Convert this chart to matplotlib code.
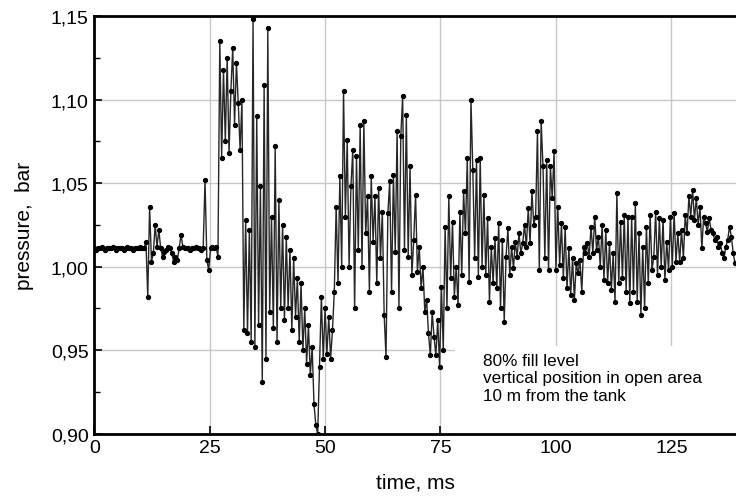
import numpy as np
import matplotlib
matplotlib.use('Agg')
import matplotlib.pyplot as plt
from matplotlib.patches import Rectangle
from matplotlib.ticker import FuncFormatter, MultipleLocator

plt.rcParams['font.family'] = ['Liberation Sans Narrow', 'Liberation Sans', 'DejaVu Sans']

# sampling step of the record, ms
dt = 0.4

# 0 .. 26.8 ms : ambient level before the blast
p_pre = [1.011, 1.010, 1.011, 1.011, 1.012, 1.011, 1.010, 1.011, 1.011, 1.011,
         1.012, 1.011, 1.010, 1.011, 1.011, 1.011, 1.010, 1.011, 1.012, 1.011,
         1.011, 1.010, 1.011, 1.011, 1.011, 1.012, 1.011, 1.011,
         1.015, 0.982, 1.036, 1.003, 1.008, 1.025, 1.012, 1.022, 1.011, 1.006,
         1.009, 1.010, 1.012, 1.011, 1.008, 1.003, 1.006, 1.004, 1.011, 1.019,
         1.012, 1.011,
         1.011, 1.011, 1.010, 1.011, 1.011, 1.012, 1.011, 1.011, 1.010, 1.011,
         1.052, 1.004, 0.998, 1.011, 1.012, 1.011, 1.012, 1.006]

# 27.2 .. 52.0 ms : first pressure burst and underpressure
p_burst = [1.135, 1.065, 1.118, 1.075, 1.125, 1.068, 1.105, 1.131, 1.085, 1.122,
           1.098, 1.070, 1.100,
           0.962, 1.028, 0.960, 1.022, 0.955, 1.148, 0.952, 1.090, 0.965, 1.048,
           0.931, 1.109, 0.945, 1.143, 0.973, 1.030, 0.963, 1.072, 0.955, 1.040,
           0.975, 1.025, 0.968, 1.018, 0.975, 1.010, 0.962, 1.005,
           0.970, 0.993, 0.955, 0.990, 0.950, 0.975, 0.942, 0.965, 0.935, 0.952,
           0.918, 0.905, 0.900, 0.940, 0.982, 0.945, 0.975, 0.948, 0.970, 0.945,
           0.962, 0.985]

# 52.4 .. 74.8 ms
p_mid = [1.036, 0.990, 1.054, 1.000, 1.105, 1.030, 1.076, 1.000, 1.048, 1.070,
         0.975, 1.066, 1.010, 1.085, 1.000, 1.087, 1.020, 1.042, 0.985, 1.054,
         1.015, 1.042, 0.990, 1.047, 1.005, 1.033, 0.971, 0.946, 1.032, 1.051,
         0.985, 1.055, 1.009, 1.081, 0.975, 1.078, 1.102, 1.010, 1.091, 1.006,
         1.060, 0.995, 1.016, 1.043, 0.997, 1.012, 0.987, 1.000, 0.973, 0.980,
         0.960, 0.947, 0.973, 0.958, 0.947, 0.968, 0.940]

# 75.2 .. 99.6 ms
p_mid2 = [0.988, 0.950, 1.024, 0.975, 1.042, 0.993, 1.027, 0.982, 1.000, 0.977,
          1.033, 0.995, 1.045, 1.020, 1.065, 0.991, 1.100, 1.058, 1.005, 1.064,
          0.994, 1.065, 1.000, 1.043, 0.995, 1.029, 0.979, 1.012, 0.990, 1.017,
          0.987, 1.026, 0.975, 1.016, 0.967, 1.006, 1.023, 0.995, 1.012, 0.999,
          1.015, 1.006, 1.020, 1.008, 1.014, 1.025, 1.012, 1.035, 1.014, 1.045,
          1.025, 1.030, 1.081, 0.998, 1.087, 1.060, 1.005, 1.064, 0.998, 1.060,
          1.041, 1.069]

# 100.0 .. 138.8 ms
p_late = [0.998, 1.036, 1.001, 1.026, 0.993, 1.024, 0.987, 1.011, 0.983, 1.005,
          0.980, 1.002, 0.996, 1.004, 0.985, 1.012, 1.008, 1.014, 1.006, 1.024,
          1.008, 1.030, 1.010, 1.018, 1.000, 1.025, 0.992, 1.022, 0.990, 1.014,
          0.986, 1.008, 0.979, 1.044, 0.990, 1.027, 0.993, 1.031, 0.985, 1.030,
          0.978, 1.030, 0.985, 1.038, 0.979, 1.020, 0.971, 1.012, 0.975, 1.024,
          0.990, 1.031, 0.998, 1.006, 1.033, 0.995, 1.029, 1.000, 1.028, 0.992,
          1.015, 0.998, 1.030, 1.000, 1.032, 1.003, 1.020, 1.003, 1.022, 1.005,
          1.031, 1.020, 1.042, 1.030, 1.046, 1.028, 1.041, 1.025, 1.036, 1.011,
          1.030, 1.026, 1.021, 1.029, 1.022, 1.020, 1.016, 1.018, 1.012, 1.014,
          1.008, 1.005, 1.012, 1.016, 1.024, 1.018, 1.008, 1.002]

segments = [(0.0, p_pre), (27.2, p_burst), (52.4, p_mid), (75.2, p_mid2), (100.0, p_late)]

x_ticks = [0, 25, 50, 75, 100, 125]
y_ticks = [0.90, 0.95, 1.00, 1.05, 1.10, 1.15]
note = '80% fill level\nvertical position in open area\n10 m from the tank'


def main():
    t = np.concatenate([t0 + dt * np.arange(len(p)) for t0, p in segments])
    p = np.concatenate([np.array(p) for t0, p in segments])

    fig = plt.figure(figsize=(7.36, 5.02), dpi=100)
    ax = fig.add_axes([0.128, 0.134, 0.872, 0.832])

    ax.plot(t, p, color='#262626', linewidth=1.0, marker='o', markersize=2.8,
            markerfacecolor='black', markeredgecolor='black', zorder=3)

    ax.set_xlim(0, 139)
    ax.set_ylim(0.90, 1.15)
    ax.set_xticks(x_ticks)
    ax.set_yticks(y_ticks)
    ax.yaxis.set_minor_locator(MultipleLocator(0.025))
    ax.yaxis.set_major_formatter(FuncFormatter(lambda v, pos: f'{v:.2f}'.replace('.', ',')))

    ax.set_axisbelow(True)
    ax.grid(which='major', color='#c8c8c8', linewidth=1.0)
    ax.tick_params(axis='both', which='major', direction='in', length=6, width=1.2,
                   labelsize=14, pad=4)
    ax.tick_params(axis='y', which='minor', direction='in', length=4, width=1.0)
    for side in ['left', 'bottom', 'top']:
        ax.spines[side].set_linewidth(2.0)
    ax.spines['right'].set_visible(False)

    # white field behind the annotation
    ax.add_patch(Rectangle((0.562, 0.0), 0.44, 0.21, transform=ax.transAxes,
                           facecolor='white', edgecolor='none', zorder=1))
    ax.text(84.3, 0.9485, note, fontsize=12.3, va='top', ha='left',
            linespacing=1.2, zorder=4)

    ax.set_xlabel('time, ms', fontsize=15, labelpad=12)
    ax.set_ylabel('pressure,  bar', fontsize=15, labelpad=12)

    fig.savefig('out.png', dpi=100)


if __name__ == '__main__':
    main()
